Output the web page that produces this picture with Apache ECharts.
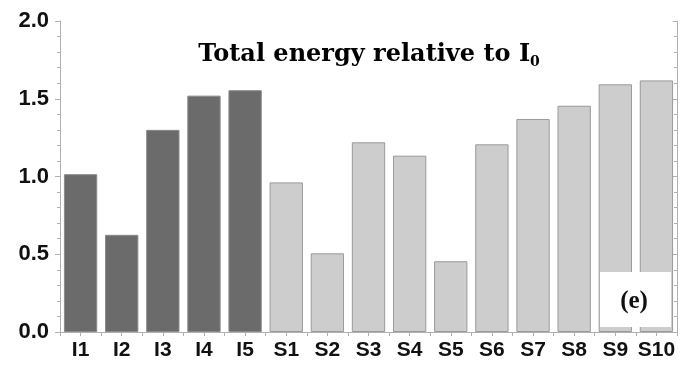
<!DOCTYPE html>
<html><head><meta charset="utf-8">
<script src="https://cdn.jsdelivr.net/npm/echarts@6/dist/echarts.min.js"></script>
<style>html,body{margin:0;padding:0;background:#fff}#c{width:685px;height:372px}</style>
</head><body><div id="c"></div>
<script>
const categories = ['I1','I2','I3','I4','I5','S1','S2','S3','S4','S5','S6','S7','S8','S9','S10'];
const values = [1.015, 0.625, 1.30, 1.52, 1.555, 0.962, 0.506, 1.22, 1.134, 0.455, 1.207, 1.37, 1.455, 1.593, 1.618];
const groups = ['I','I','I','I','I','S','S','S','S','S','S','S','S','S','S'];
const yTicks = [0, 0.5, 1.0, 1.5, 2.0];

const colorFor = {I: '#6b6b6b', S: '#cdcdcd'};
const borderFor = {I: '#8a8a8a', S: '#9a9a9a'};

const chart = echarts.init(document.getElementById('c'), null, {renderer: 'canvas'});
const axisGray = '#b0b0b0';
chart.setOption({
  backgroundColor: '#fff',
  animation: false,
  grid: {left: 60, right: 8, top: 21, bottom: 40},
  title: {
    text: '{t|Total energy relative to I}{s|0}',
    left: 364, top: 36, textAlign: 'center',
    textStyle: {
      rich: {
        t: {fontFamily: 'DejaVu Serif', fontWeight: 'bold', fontSize: 24, color: '#000'},
        s: {fontFamily: 'DejaVu Serif', fontWeight: 'bold', fontSize: 14, color: '#000', verticalAlign: 'bottom', padding: [14, 0, 0, 0]}
      }
    }
  },
  graphic: [
    {type: 'rect', z: 100, shape: {x: 600, y: 272, width: 71, height: 55}, style: {fill: '#fff'}},
    {type: 'text', z: 101, x: 634, y: 302, style: {text: '(e)', fill: '#111', fontFamily: 'Liberation Serif', fontWeight: 'bold', fontSize: 25, align: 'center', verticalAlign: 'middle'}}
  ],
  xAxis: [{
    type: 'category', data: categories, position: 'bottom',
    axisLine: {lineStyle: {color: axisGray}},
    axisTick: {show: true, alignWithLabel: true, inside: false, length: 4, lineStyle: {color: axisGray}},
    axisLabel: {interval: 0, color: '#111', fontFamily: 'Liberation Sans', fontWeight: 'bold', fontSize: 21, margin: 8},
  }, {
    type: 'value', min: 0, max: 15, interval: 0.5, position: 'top',
    axisLine: {show: true, lineStyle: {color: axisGray}},
    axisTick: {show: true, inside: true, length: 4, lineStyle: {color: axisGray}},
    axisLabel: {show: false}, splitLine: {show: false}
  }],
  yAxis: [{
    type: 'value', min: 0, max: 2, interval: 0.5, position: 'left',
    axisLine: {show: true, lineStyle: {color: axisGray}},
    axisTick: {show: true, inside: false, length: 5, lineStyle: {color: axisGray}},
    minorTick: {show: true, splitNumber: 5, length: 3, lineStyle: {color: axisGray}},
    splitLine: {show: false},
    axisLabel: {color: '#111', fontFamily: 'Liberation Sans', fontWeight: 'bold', fontSize: 22, margin: 11,
      formatter: v => yTicks.includes(v) ? v.toFixed(1) : ''}
  }, {
    type: 'value', min: 0, max: 2, interval: 0.5, position: 'right',
    axisLine: {show: true, lineStyle: {color: axisGray}},
    axisTick: {show: true, inside: true, length: 4, lineStyle: {color: axisGray}},
    minorTick: {show: true, splitNumber: 5, length: 3, lineStyle: {color: axisGray}},
    splitLine: {show: false}, axisLabel: {show: false}
  }],
  series: [{
    type: 'bar', xAxisIndex: 0, yAxisIndex: 0,
    barCategoryGap: '19%',
    data: values.map((v, i) => ({value: v, itemStyle: {color: colorFor[groups[i]], borderColor: borderFor[groups[i]], borderWidth: 1}}))
  }]
});
</script></body></html>
